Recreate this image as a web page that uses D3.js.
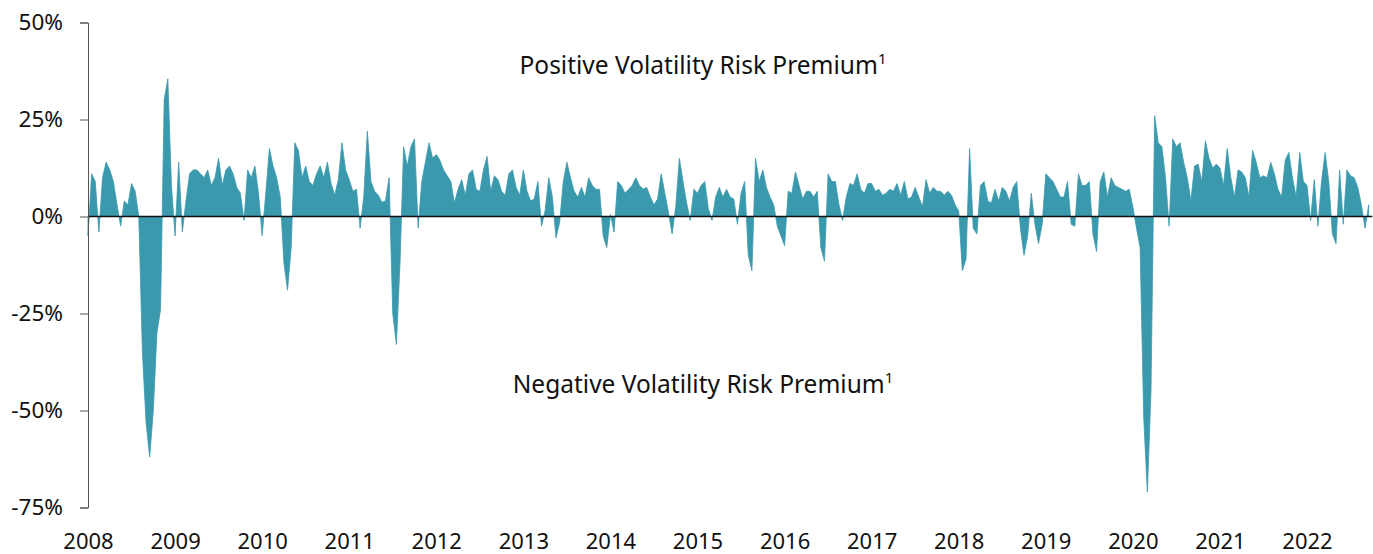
<!DOCTYPE html>
<html>
<head>
<meta charset="utf-8">
<script src="https://cdn.jsdelivr.net/npm/d3@7"></script>
<style>
  body { margin: 0; background: #fff; }
  svg { display: block; font-family: "Segoe UI", "Noto Sans", sans-serif; }
</style>
</head>
<body>
<svg width="1373" height="554"></svg>
<script>
// volatility risk premium, 24 points a year (semi-monthly), in %
const vrp2008 = [-5, 11, 9, -4, 10, 14, 12, 9, 3, -2.5, 4, 3, 8.5, 6.5, 0, -35, -53, -62, -50, -30, -24, 30, 35.5, 8]
const vrp2009 = [-5, 14, -4, 4, 11, 12, 12, 11, 10, 12, 8, 10, 15, 8, 12, 13, 11, 7.5, 6, -1, 12, 10, 13, 6]
const vrp2010 = [-5, 6, 17.5, 13, 10, 5, -12, -19, -8, 19, 17, 10, 13, 9, 8, 11, 13, 10, 14, 8.5, 5.5, 9.5, 19, 12]
const vrp2011 = [9.5, 6.5, 7, -3, 5, 22, 9, 6.5, 5.5, 3.7, 4, 10, -25, -33, -12, 18, 13, 18, 20, -3, 9, 14, 19, 15]
const vrp2012 = [16, 14.5, 12, 10.5, 9, 3.5, 7, 9.5, 5.5, 11, 12, 7, 6.5, 12, 15.5, 6.5, 10.5, 9.5, 6.5, 5.5, 11, 12, 7.5, 5.5]
const vrp2013 = [12, 6.5, 4, 4.5, 9, -2.5, 1.5, 10, 5, -5.5, -1.5, 9, 14, 10, 6.5, 5, 7.5, 5, 10, 8, 7, 7, -5, -8]
const vrp2014 = [0.5, -4, 9, 8, 6, 7, 8, 10, 8, 7, 7.5, 5, 3, 4.5, 11, 6, 1, -4.5, 2.5, 15, 9, 3.5, -1, 7]
const vrp2015 = [6, 8, 9, 2, -1, 5, 7.5, 5, 7, 5, 4.5, -2, 6, 9, -10, -14, 15, 9, 12, 7.5, 5, 3, -2.5, -5]
const vrp2016 = [-7.5, 6.5, 6, 11.5, 8, 4.5, 6.5, 6.5, 5, 6.5, -8, -11.5, 11, 9, 9, 3, -1, 5, 8.5, 8, 11, 7, 6, 8.5]
const vrp2017 = [8.5, 6.5, 7, 5.5, 6, 7, 6.5, 8.5, 5.5, 9, 4.5, 5, 7.5, 5, 2.5, 9.5, 6, 7.5, 6.5, 6.5, 5.5, 6.5, 5.5, 3]
const vrp2018 = [1.5, -14, -11, 17.5, -3, -4.5, 8, 9, 4, 3.5, 7, 4, 7.5, 6.5, 4, 7.5, 9, -3, -10, -5, 6, -2, -7, -2]
const vrp2019 = [11, 10, 9, 7, 5, 5, 9, -2, -2.5, 11, 8, 8, 9, -4.5, -9, 9, 11.5, 5, 10, 8, 7.5, 7, 6.5, 7]
const vrp2020 = [2.5, -3, -8, -52, -71, -45, 26, 19, 18, 10, -2.5, 20, 18, 19, 14, 10, 4, 13, 13.5, 9, 19.5, 15, 12.5, 13.5]
const vrp2021 = [12.5, 8, 17.5, 10, 5, 12, 11.5, 10, 5, 17, 14, 10, 10.5, 10, 14, 11, 7, 5, 14.5, 16.5, 10, 5, 16.5, 9]
const vrp2022 = [8, -1, 9.5, -2.5, 9, 16.5, 9, -4.5, -7, 12, -2, 12, 10.5, 10, 7.5, 3, -3, 3]

const years = d3.range(2008, 2023)
const yTicks = [50, 25, 0, -25, -50, -75]
const labelPos = "Positive Volatility Risk Premium"
const labelNeg = "Negative Volatility Risk Premium"

const series = [vrp2008, vrp2009, vrp2010, vrp2011, vrp2012, vrp2013, vrp2014, vrp2015,
  vrp2016, vrp2017, vrp2018, vrp2019, vrp2020, vrp2021, vrp2022]

let data = []
series.forEach((arr, k) => {
  arr.forEach((v, i) => data.push({t: years[k] + i / 24, v: v}))
})

const svg = d3.select("svg")
const color = "#3a99ad"

const x = d3.scaleLinear()
  .domain([2008, 2022])
  .range([88, 1307])

const y = d3.scaleLinear()
  .domain([-75, 50])
  .range([507.5, 22.5])

const area = d3.area()
  .x(d => x(d.t))
  .y0(y(0))
  .y1(d => y(d.v))

svg.append("path")
  .datum(data)
  .attr("fill", color)
  .attr("stroke", color)
  .attr("stroke-width", 0.8)
  .attr("stroke-linejoin", "round")
  .attr("d", area)

// zero line
svg.append("line")
  .attr("x1", x(2008))
  .attr("x2", x(2022.75))
  .attr("y1", y(0))
  .attr("y2", y(0))
  .attr("stroke", "#111")
  .attr("stroke-width", 1.6)

// y axis
svg.append("g")
  .attr("transform", `translate(${x(2008)},0)`)
  .call(d3.axisLeft(y).tickValues(yTicks).tickSize(8).tickPadding(17).tickFormat(d => d + "%"))
  .attr("font-family", null)
  .attr("font-size", 22.5)
  .call(g => g.selectAll("line").attr("stroke", "#555"))
  .call(g => g.select(".domain").attr("stroke", "#555"))
  .call(g => g.selectAll("text").attr("fill", "#111"))

// x axis labels
svg.append("g")
  .attr("transform", `translate(0,${y(-75)})`)
  .call(d3.axisBottom(x).tickValues(years).tickSize(0).tickPadding(26).tickFormat(d => String(d)))
  .attr("font-family", null)
  .attr("font-size", 22)
  .call(g => g.select(".domain").remove())
  .call(g => g.selectAll("text").attr("fill", "#111"))

// annotations
const notes = [{text: labelPos, y: 74}, {text: labelNeg, y: 393}]
notes.forEach(n => {
  const t = svg.append("text")
    .attr("x", 703)
    .attr("y", n.y)
    .attr("text-anchor", "middle")
    .attr("font-size", 24.5)
    .attr("fill", "#111")
  t.append("tspan").text(n.text)
  t.append("tspan").attr("font-size", 15).attr("dy", -10).text("1")
})
</script>
</body>
</html>
